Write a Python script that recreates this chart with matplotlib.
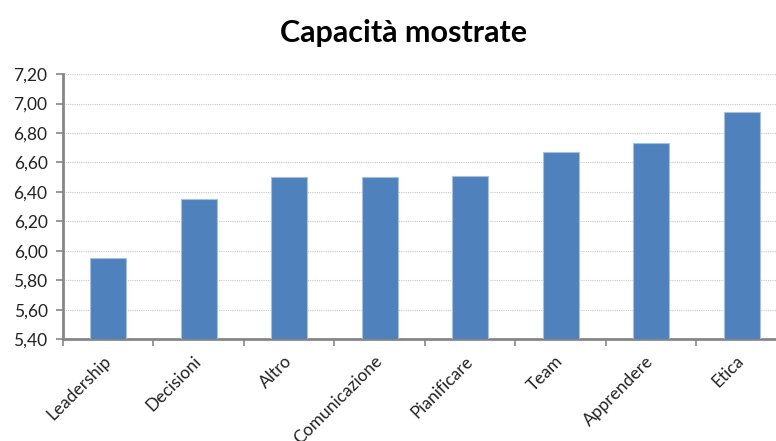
import numpy as np
import matplotlib.pyplot as plt
from matplotlib.ticker import FuncFormatter, FixedLocator

categories = ['Leadership', 'Decisioni', 'Altro', 'Comunicazione',
              'Pianificare', 'Team', 'Apprendere', 'Etica']
values = [5.95, 6.35, 6.50, 6.50, 6.51, 6.67, 6.73, 6.94]
title = 'Capacità mostrate'

plt.rcParams['font.family'] = ['Lato', 'DejaVu Sans']

fig = plt.figure(figsize=(7.76, 4.41), dpi=100)
ax = fig.add_axes([0.081, 0.231, 0.933, 0.601])

x = np.arange(len(categories))
ax.bar(x, values, width=0.4, color='#4F81BD', edgecolor='#A7C0DE',
       linewidth=0.8, zorder=3)

ax.set_ylim(5.4, 7.2)
ax.set_xlim(-0.5, len(categories) - 0.5)
ax.set_yticks(np.arange(5.4, 7.21, 0.2))
ax.yaxis.set_major_formatter(FuncFormatter(lambda v, p: f'{v:.2f}'.replace('.', ',')))
ax.grid(axis='y', color='#C8C8C8', linestyle=(0, (1, 1)), linewidth=0.8, zorder=0)

# tick marks between categories, labels at the centres
ax.xaxis.set_major_locator(FixedLocator(x - 0.5))
ax.xaxis.set_minor_locator(FixedLocator(x))
ax.set_xticklabels([])
ax.set_xticklabels(categories, minor=True, rotation=45, ha='right',
                   va='center', rotation_mode='anchor', fontsize=12.5,
                   color='#222222')
ax.tick_params(axis='x', which='minor', length=0, pad=14)
ax.tick_params(axis='x', which='major', length=5, width=1.2, color='#868686')
ax.tick_params(axis='y', length=5, width=1.2, color='#868686',
               labelsize=12.5, labelcolor='#222222', pad=6)

for s in ['top', 'right']:
    ax.spines[s].set_visible(False)
for s in ['left', 'bottom']:
    ax.spines[s].set_color('#868686')
    ax.spines[s].set_linewidth(2)

fig.text(0.52, 0.925, title, ha='center', va='center', fontsize=22,
         fontweight='bold', color='#000000')

fig.savefig('out.png', dpi=100)
